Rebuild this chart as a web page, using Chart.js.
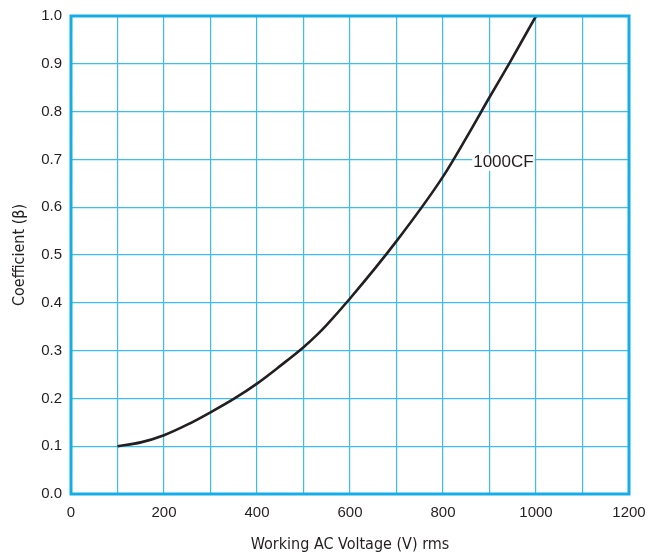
<!DOCTYPE html>
<html lang="en">
<head>
<meta charset="utf-8">
<title>Coefficient vs Working AC Voltage</title>
<script src="https://cdn.jsdelivr.net/npm/chart.js@4.4.0/dist/chart.umd.min.js"></script>
<style>
  html, body { margin: 0; padding: 0; background: #fff; }
  #wrap { width: 648px; height: 555px; position: relative; }
</style>
</head>
<body>
<div id="wrap"><canvas id="graph" width="648" height="555"></canvas></div>
<script>
// curve
var voltage = [100, 150, 200, 250, 300, 350, 400, 450, 500, 530, 550, 600, 700, 800, 850, 900, 942, 1000];
var beta    = [0.100, 0.108, 0.123, 0.145, 0.171, 0.199, 0.231, 0.268, 0.307, 0.334, 0.354, 0.409, 0.529, 0.664, 0.745, 0.830, 0.900, 1.000];
var seriesName = "1000CF";
var labelAt = [930, 0.695];

var gridBlue = "#3dbdef";
var edgeBlue = "#14ade8";
var narrow = '"Liberation Sans Narrow", "DejaVu Sans Condensed", "Liberation Sans", sans-serif';

var points = voltage.map(function(v, i){ return {x: v, y: beta[i]}; });

// box round the plot area + curve label
var extras = {
  id: "extras",
  afterDatasetsDraw: function(chart){
    var ctx = chart.ctx, a = chart.chartArea;
    var xs = chart.scales.x, ys = chart.scales.y;
    ctx.save();
    ctx.strokeStyle = edgeBlue;
    ctx.lineWidth = 3;
    ctx.strokeRect(a.left, a.top, a.right - a.left, a.bottom - a.top);
    var px = xs.getPixelForValue(labelAt[0]);
    var py = ys.getPixelForValue(labelAt[1]);
    ctx.font = "17px 'Liberation Sans', Arial, sans-serif";
    var w = ctx.measureText(seriesName).width;
    ctx.fillStyle = "#fff";
    ctx.fillRect(px - w/2 - 1, py - 8, w + 2, 17);
    ctx.fillStyle = "#231f20";
    ctx.textAlign = "center";
    ctx.textBaseline = "middle";
    ctx.fillText(seriesName, px, py + 1);
    ctx.restore();
  }
};

new Chart(document.getElementById("graph").getContext("2d"), {
  type: "line",
  data: {
    datasets: [{
      label: seriesName,
      data: points,
      borderColor: "#231f20",
      borderWidth: 2.6,
      pointRadius: 0,
      fill: false,
      cubicInterpolationMode: "monotone"
    }]
  },
  options: {
    responsive: false,
    animation: false,
    layout: { padding: { top: 16, right: 19, left: 0, bottom: 0 } },
    plugins: { legend: { display: false }, tooltip: { enabled: false } },
    scales: {
      x: {
        type: "linear",
        min: 0, max: 1200,
        afterFit: function(s){ s.height = 61; s.paddingLeft = 0; s.paddingRight = 0; },
        grid: { color: gridBlue, lineWidth: 1.2, drawTicks: false },
        border: { display: false },
        ticks: {
          stepSize: 100,
          padding: 10,
          color: "#231f20",
          font: { family: "'Liberation Sans', Arial, sans-serif", size: 15 },
          maxRotation: 0,
          autoSkip: false,
          callback: function(v){ return v % 200 === 0 ? String(v) : ""; }
        },
        title: {
          display: true,
          text: "Working AC Voltage (V) rms",
          color: "#231f20",
          font: { family: narrow, size: 16 },
          padding: { top: 0, bottom: 1 }
        }
      },
      y: {
        min: 0, max: 1,
        afterFit: function(s){ s.width = 71; s.paddingTop = 0; s.paddingBottom = 0; },
        grid: { color: gridBlue, lineWidth: 1.2, drawTicks: false },
        border: { display: false },
        ticks: {
          stepSize: 0.1,
          padding: 9,
          color: "#231f20",
          font: { family: "'Liberation Sans', Arial, sans-serif", size: 15 },
          callback: function(v){ return Number(v).toFixed(1); }
        },
        title: {
          display: true,
          text: "Coefficient (\u03b2)",
          color: "#231f20",
          font: { family: narrow, size: 16 },
          padding: { top: 10, bottom: 0 }
        }
      }
    }
  },
  plugins: [extras]
});
</script>
</body>
</html>
